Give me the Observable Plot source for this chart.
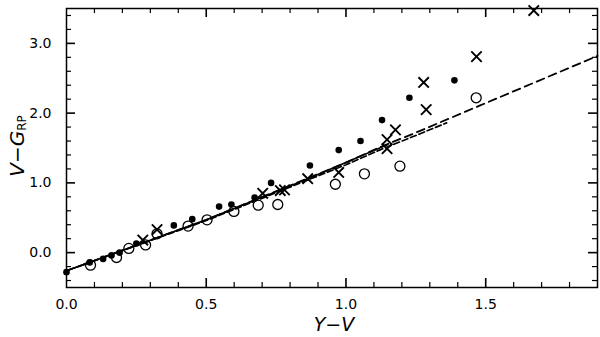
<!DOCTYPE html>
<html>
<head>
<meta charset="utf-8">
<script src="https://cdn.jsdelivr.net/npm/d3@7"></script>
<script src="https://cdn.jsdelivr.net/npm/@observablehq/plot@0.6"></script>
<style>
  html, body { margin: 0; padding: 0; background: #fff; }
  #chart svg { display: block; }
</style>
</head>
<body>
<div id="chart"></div>
<script>
// ---- data ----
const filledX = [0.0, 0.083, 0.131, 0.161, 0.19, 0.25, 0.384, 0.45, 0.546, 0.59, 0.673, 0.732, 0.871, 0.974, 1.052, 1.129, 1.227, 1.388];
const filledY = [-0.28, -0.14, -0.09, -0.04, 0.0, 0.13, 0.39, 0.48, 0.66, 0.69, 0.79, 1.0, 1.25, 1.47, 1.60, 1.90, 2.22, 2.47];

const openX = [0.086, 0.179, 0.223, 0.283, 0.324, 0.435, 0.503, 0.599, 0.686, 0.756, 0.962, 1.066, 1.193, 1.466];
const openY = [-0.18, -0.07, 0.06, 0.11, 0.27, 0.38, 0.47, 0.59, 0.68, 0.69, 0.98, 1.13, 1.24, 2.22];

const crossX = [0.273, 0.324, 0.702, 0.765, 0.78, 0.863, 0.974, 1.147, 1.147, 1.177, 1.278, 1.287, 1.467, 1.672];
const crossY = [0.18, 0.33, 0.85, 0.89, 0.90, 1.06, 1.15, 1.49, 1.62, 1.76, 2.44, 2.05, 2.81, 3.47];

const solidX = [0.0, 0.5, 0.87, 1.15];
const solidY = [-0.26, 0.47, 1.07, 1.55];

const longDashX = [0.0, 0.5, 1.0, 1.12, 1.25, 1.48, 1.9];
const longDashY = [-0.26, 0.47, 1.29, 1.51, 1.72, 2.11, 2.82];

const shortDashX = [0.0, 0.5, 1.0, 1.12, 1.25, 1.36];
const shortDashY = [-0.26, 0.46, 1.26, 1.47, 1.68, 1.86];

const xLabelTicks = [0.0, 0.5, 1.0, 1.5];
const xMajorTicks = [0.5, 1.0, 1.5];
const xMinorTicks = [0.1, 0.2, 0.3, 0.4, 0.6, 0.7, 0.8, 0.9, 1.1, 1.2, 1.3, 1.4, 1.6, 1.7, 1.8];
const yLabelTicks = [0.0, 1.0, 2.0, 3.0];
const yMinorTicks = [-0.4, -0.2, 0.2, 0.4, 0.6, 0.8, 1.2, 1.4, 1.6, 1.8, 2.2, 2.4, 2.6, 2.8, 3.2, 3.4];

const xTitle = "Y−V";
const yTitleMain = "V−G";
const yTitleSub = "RP";

// ---- build tables ----
const zip = (xs, ys) => xs.map((x, i) => ({x, y: ys[i]}));
const filled = zip(filledX, filledY);
const open = zip(openX, openY);
const cross = zip(crossX, crossY);
const solid = zip(solidX, solidY);
const longDash = zip(longDashX, longDashY);
const shortDash = zip(shortDashX, shortDashY);

const W = 600, H = 337, mL = 66, mR = 3, mT = 8, mB = 50;
const plotH = H - mT - mB;
const plotW = W - mL - mR;
const minorLen = 5, majorLen = 9;

const chart = Plot.plot({
  width: W,
  height: H,
  marginLeft: mL,
  marginRight: mR,
  marginTop: mT,
  marginBottom: mB,
  style: {fontFamily: "DejaVu Sans", fontSize: "14px", background: "white", color: "black"},
  x: {domain: [0, 1.9], axis: null},
  y: {domain: [-0.5, 3.5], axis: null},
  marks: [
    // inward ticks on all four sides
    Plot.tickX(xMinorTicks, {x: d => d, insetTop: plotH - minorLen, stroke: "black", strokeWidth: 1.2}),
    Plot.tickX(xMinorTicks, {x: d => d, insetBottom: plotH - minorLen, stroke: "black", strokeWidth: 1.2}),
    Plot.tickX(xMajorTicks, {x: d => d, insetTop: plotH - majorLen, stroke: "black", strokeWidth: 1.6}),
    Plot.tickX(xMajorTicks, {x: d => d, insetBottom: plotH - majorLen, stroke: "black", strokeWidth: 1.6}),
    Plot.tickY(yMinorTicks, {y: d => d, insetRight: plotW - minorLen, stroke: "black", strokeWidth: 1.2}),
    Plot.tickY(yMinorTicks, {y: d => d, insetLeft: plotW - minorLen, stroke: "black", strokeWidth: 1.2}),
    Plot.tickY(yLabelTicks, {y: d => d, insetRight: plotW - majorLen, stroke: "black", strokeWidth: 1.6}),
    Plot.tickY(yLabelTicks, {y: d => d, insetLeft: plotW - majorLen, stroke: "black", strokeWidth: 1.6}),
    Plot.axisX({anchor: "bottom", ticks: xLabelTicks, tickSize: 0, tickPadding: 12, tickFormat: d3.format(".1f"), label: null, fontSize: 14}),
    Plot.axisY({anchor: "left", ticks: yLabelTicks, tickSize: 0, tickPadding: 15, tickFormat: d3.format(".1f"), label: null, fontSize: 14}),
    // fit lines
    Plot.line(solid, {x: "x", y: "y", stroke: "black", strokeWidth: 1.6}),
    Plot.line(shortDash, {x: "x", y: "y", stroke: "black", strokeWidth: 1.7, strokeDasharray: "6,3"}),
    Plot.line(longDash, {x: "x", y: "y", stroke: "black", strokeWidth: 1.8, strokeDasharray: "8,5"}),
    // points
    Plot.dot(open, {x: "x", y: "y", r: 5, stroke: "black", strokeWidth: 1.3, fill: "none"}),
    Plot.dot(filled, {x: "x", y: "y", r: 3.3, fill: "black", stroke: "none"}),
    Plot.dot(cross, {x: "x", y: "y", r: 4.8, symbol: "times", stroke: "black", strokeWidth: 1.9}),
    Plot.frame({stroke: "black", strokeWidth: 1.5})
  ]
});

document.getElementById("chart").appendChild(chart);

// axis titles
const svg = d3.select(chart);
svg.append("text")
  .attr("x", 334).attr("y", 331)
  .attr("text-anchor", "middle")
  .style("font-family", "DejaVu Sans")
  .style("font-style", "italic")
  .style("font-size", "19px")
  .attr("fill", "black")
  .text(xTitle);

const yt = svg.append("text")
  .attr("transform", "translate(24,146) rotate(-90)")
  .attr("text-anchor", "middle")
  .style("font-family", "DejaVu Sans")
  .style("font-size", "20px")
  .attr("fill", "black");
yt.append("tspan").style("font-style", "italic").text(yTitleMain);
yt.append("tspan").style("font-size", "12px").attr("dy", 2).text(yTitleSub);
</script>
</body>
</html>
